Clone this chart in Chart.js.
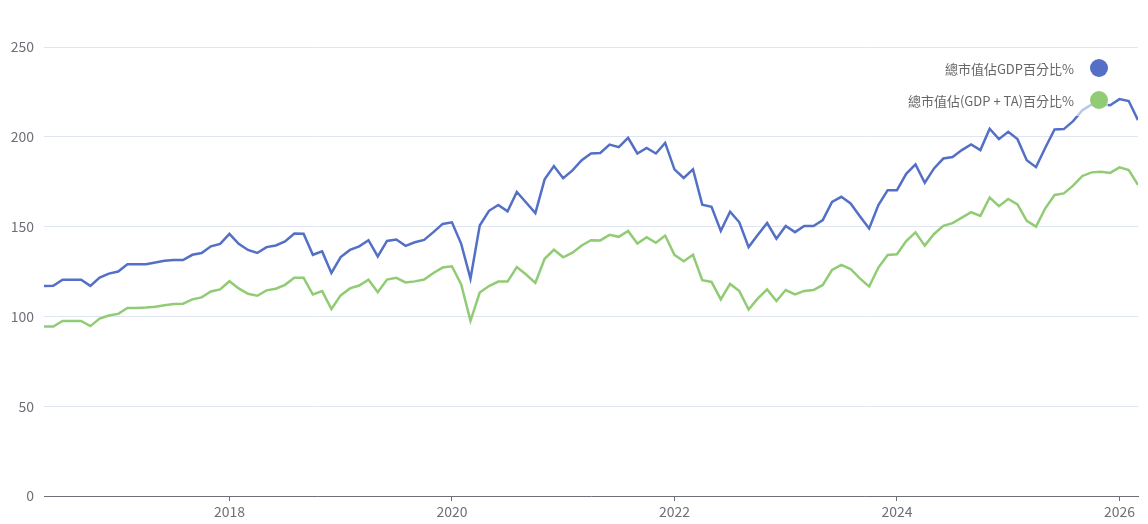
<!DOCTYPE html>
<html>
<head>
<meta charset="utf-8">
<script src="https://cdn.jsdelivr.net/npm/chart.js"></script>
<style>
  body { margin: 0; background: #fff; }
  #wrap { position: relative; width: 1148px; height: 524px; }
  #legend { position: absolute; right: 40px; top: 52px; font-family: "Noto Sans CJK TC", "Noto Sans", sans-serif; font-size: 13px; color: #666; background: rgba(255,255,255,0.6); }
  .item { display: flex; justify-content: flex-end; align-items: center; height: 32px; }
  .dot { width: 18px; height: 18px; border-radius: 50%; margin-left: 16px; }
</style>
</head>
<body>
<div id="wrap">
  <canvas id="lineChart" width="1148" height="524"></canvas>
  <div id="legend"></div>
</div>
<script>
// monthly, 2016-05 .. 2026-03
const startYear = 2016, startMonth = 5;
const labelsSeries = ["總市值佔GDP百分比%", "總市值佔(GDP + TA)百分比%"];
const colores = ["#5470c6", "#91cc75"];

const gdpPct = [
  116.9, 117, 120.4, 120.4, 120.4, 117, 121.6, 123.8, 125, 129,
  129, 129, 130, 131, 131.4, 131.4, 134.3, 135.3, 139, 140.4,
  146, 140.4, 137, 135.3, 138.6, 139.5, 141.7, 146.1, 146, 134.3,
  136.2, 124.2, 133, 137, 139, 142.4, 133.4, 142, 142.8, 139.3,
  141.3, 142.6, 146.9, 151.5, 152.4, 140.4, 121, 150.6, 158.8, 162,
  158.5, 169.3, 163.4, 157.5, 176.3, 183.7, 176.9, 181.3, 187, 190.7,
  191, 195.7, 194.2, 199.4, 190.7, 193.8, 190.7, 196.6, 181.9, 177.1,
  181.9, 162.2, 161, 147.6, 158.3, 152.4, 138.6, 145.4, 152, 143.3,
  150.3, 146.9, 150.3, 150.3, 153.6, 163.8, 166.6, 162.9, 155.8, 149,
  162, 170.3, 170.3, 179.4, 184.6, 174.4, 182.4, 187.9, 188.7, 192.6,
  195.7, 192.6, 204.5, 198.7, 202.8, 198.7, 187, 183.1, 193.9, 204.1,
  204.3, 208.7, 214.8, 218, 218, 217.6, 221, 219.9, 209.3
];
const gdpTaPct = [
  94.4, 94.4, 97.5, 97.5, 97.5, 94.6, 98.8, 100.5, 101.4, 104.7,
  104.7, 104.9, 105.4, 106.2, 106.9, 107.1, 109.5, 110.6, 113.9, 115,
  119.6, 115.6, 112.6, 111.5, 114.5, 115.4, 117.6, 121.5, 121.5, 112.2,
  114.1, 104.1, 111.7, 115.6, 117.2, 120.4, 113.5, 120.5, 121.5, 118.9,
  119.5, 120.5, 124.2, 127.2, 127.9, 117.8, 97.5, 113.3, 116.9, 119.4,
  119.4, 127.5, 123.3, 118.7, 132.1, 137.1, 132.9, 135.5, 139.5, 142.4,
  142.3, 145.4, 144.3, 147.6, 140.6, 144.1, 141, 145, 134.3, 130.7,
  134.3, 120.2, 119.2, 109.5, 118.1, 114.1, 103.8, 110, 115, 108.6,
  114.7, 112.3, 114.2, 114.7, 117.5, 125.9, 128.7, 126.4, 121.2, 116.6,
  127.2, 134.2, 134.6, 142, 146.8, 139.4, 145.9, 150.4, 151.9, 155,
  158, 156, 166.2, 161.4, 165.4, 162.4, 153.2, 150, 160.2, 167.6,
  168.5, 172.8, 178.2, 180.2, 180.6, 179.9, 183, 181.5, 173.2
];
const yearTicks = [2018, 2020, 2022, 2024, 2026];

const xs = gdpPct.map((_, i) => startYear + (startMonth - 1 + i) / 12);
const toPts = arr => arr.map((v, i) => ({ x: xs[i], y: v }));

Chart.defaults.font.family = "'Noto Sans CJK TC', 'Noto Sans', sans-serif";
Chart.defaults.font.size = 14;
Chart.defaults.color = "#6e7079";

new Chart(document.getElementById("lineChart"), {
  type: "line",
  data: {
    datasets: [
      { label: labelsSeries[0], data: toPts(gdpPct), borderColor: colores[0], borderWidth: 2.5, pointRadius: 0, tension: 0 },
      { label: labelsSeries[1], data: toPts(gdpTaPct), borderColor: colores[1], borderWidth: 2.5, pointRadius: 0, tension: 0 },
    ],
  },
  options: {
    responsive: false,
    animation: false,
    layout: { padding: { top: 47, right: 10, left: 0, bottom: 0 } },
    plugins: { legend: { display: false }, tooltip: { enabled: false } },
    scales: {
      x: {
        type: "linear",
        min: xs[0],
        max: xs[xs.length - 1],
        afterBuildTicks: ax => { ax.ticks = yearTicks.map(v => ({ value: v })); },
        ticks: { callback: v => String(v), padding: 2, maxRotation: 0 },
        grid: { drawOnChartArea: false, color: "#6e7079", tickLength: 5 },
        border: { color: "#6e7079" },
        afterFit: ax => { ax.height = 28; },
      },
      y: {
        min: 0,
        max: 250,
        ticks: { stepSize: 50, padding: 10 },
        grid: { color: "#e0e6f1", drawTicks: false },
        border: { display: false },
        afterFit: ax => { ax.width = 44; },
      },
    },
  },
});

document.getElementById("legend").innerHTML = labelsSeries
  .map((t, i) => `<div class="item"><span>${t}</span><span class="dot" style="background:${colores[i]}"></span></div>`)
  .join("");
</script>
</body>
</html>
